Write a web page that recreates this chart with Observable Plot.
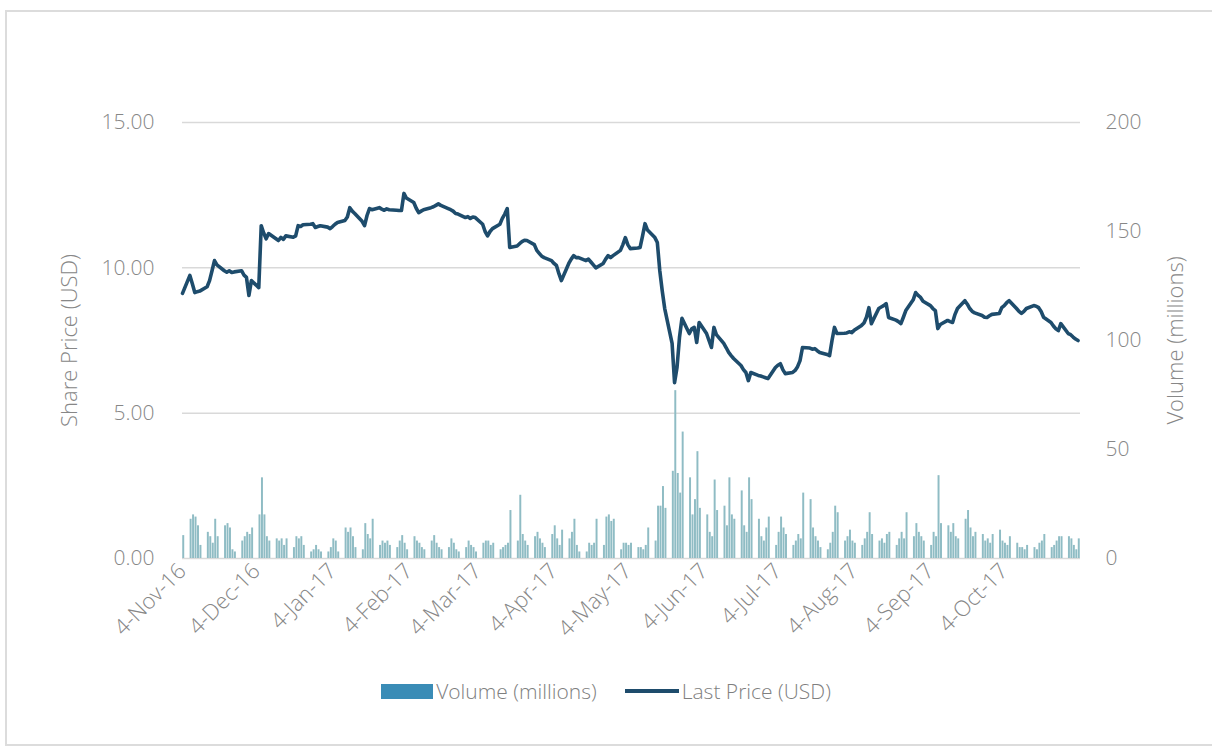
<!DOCTYPE html>
<html>
<head>
<meta charset="utf-8">
<script src="https://cdn.jsdelivr.net/npm/d3@7"></script>
<script src="https://cdn.jsdelivr.net/npm/@observablehq/plot@0.6"></script>
<style>
  html, body { margin: 0; padding: 0; background: #fff; }
  #wrap { position: relative; width: 1212px; height: 754px; overflow: hidden; font-family: "Open Sans", sans-serif; }
  #frame { position: absolute; left: 5px; top: 10px; width: 1230px; height: 736px; border: 2px solid #dcdcdc; box-sizing: border-box; }
  #chart { position: absolute; left: 0; top: 0; }
  #legend { position: absolute; top: 677px; left: 0; width: 1212px; display: flex; justify-content: center; align-items: center; font-size: 21px; color: #7f7f7f; font-weight: 300; }
  .sw-rect { width: 52px; height: 15px; margin-right: 3px; }
  .sw-line { width: 54px; height: 4px; margin-right: 3px; }
  .item { display: flex; align-items: center; margin: 0 14px; }
</style>
</head>
<body>
<div id="wrap">
  <div id="frame"></div>
  <div id="chart"></div>
  <div id="legend"></div>
</div>
<script>
// ---- Data ----
const startDate = "2016-11-04";
const endDate = "2017-11-04";

const xTickLabels = ["4-Nov-16","4-Dec-16","4-Jan-17","4-Feb-17","4-Mar-17","4-Apr-17","4-May-17","4-Jun-17","4-Jul-17","4-Aug-17","4-Sep-17","4-Oct-17"];
const priceTicks = [0, 5, 10, 15];
const volumeTicks = [0, 50, 100, 150, 200];
const priceTitle = "Share Price (USD)";
const volumeTitle = "Volume (millions)";

// Last price (USD), one value per trading day (Fri 4-Nov-16, then Mon..Fri weeks)
const lastPrice = [
  9.12,
  9.74, 9.45, 9.15, 9.18, 9.20,
  9.35, 9.56, 9.90, 10.25, 10.10,
  9.90, 9.85, 9.90, 9.84, 9.86,
  9.90, 9.75, 9.67, 9.05, 9.56,
  9.32, 11.45, 11.20, 11.00, 11.18,
  11.00, 10.94, 11.05, 10.98, 11.10,
  11.05, 11.10, 11.45, 11.42, 11.48,
  11.50, 11.52, 11.39, 11.42, 11.45,
  11.40, 11.35, 11.42, 11.50, 11.56,
  11.63, 11.75, 12.07, 11.95, 11.87,
  11.60, 11.45, 11.80, 12.04, 12.00,
  12.07, 12.02, 11.98, 12.03, 12.00,
  11.98, 11.97, 11.97, 12.56, 12.40,
  12.25, 12.05, 11.90, 11.95, 12.00,
  12.07, 12.10, 12.15, 12.20, 12.15,
  12.04, 12.00, 11.95, 11.87, 11.85,
  11.73, 11.76, 11.70, 11.75, 11.73,
  11.50, 11.25, 11.10, 11.25, 11.35,
  11.50, 11.70, 11.85, 12.04, 10.70,
  10.75, 10.83, 10.90, 10.95, 10.94,
  10.80, 10.60, 10.50, 10.40, 10.35,
  10.25, 10.15, 10.08, 9.80, 9.56,
  10.15, 10.30, 10.42, 10.35, 10.35,
  10.25, 10.30, 10.20, 10.10, 10.00,
  10.15, 10.30, 10.42, 10.35, 10.42,
  10.60, 10.80, 11.04, 10.80, 10.66,
  10.68, 10.70, 11.10, 11.52, 11.30,
  11.04, 10.87, 9.90, 9.20, 8.60,
  7.40, 6.05, 6.57, 7.60, 8.26,
  7.74, 7.90, 7.95, 7.43, 8.12,
  7.74, 7.50, 7.26, 7.95, 7.70,
  7.40, 7.25, 7.09, 6.98, 6.88,
  6.64, 6.50, 6.40, 6.12, 6.40,
  6.30, 6.28, 6.25, 6.22, 6.19,
  6.57, 6.65, 6.70, 6.50, 6.36,
  6.40, 6.47, 6.60, 6.81, 7.26,
  7.24, 7.20, 7.22, 7.15, 7.09,
  7.02, 6.98, 7.50, 7.95, 7.74,
  7.75, 7.76, 7.80, 7.77, 7.85,
  8.02, 8.10, 8.30, 8.63, 8.08,
  8.60, 8.65, 8.70, 8.77, 8.29,
  8.20, 8.15, 8.08, 8.30, 8.53,
  8.90, 9.15, 9.05, 8.98, 8.85,
  8.70, 8.60, 8.53, 7.91, 8.05,
  8.19, 8.15, 8.12, 8.40, 8.60,
  8.87, 8.75, 8.60, 8.50, 8.45,
  8.36, 8.30, 8.29, 8.35, 8.40,
  8.43, 8.63, 8.70, 8.80, 8.87,
  8.60, 8.50, 8.43, 8.50, 8.60,
  8.70, 8.68, 8.63, 8.50, 8.30,
  8.12, 8.00, 7.90, 7.84, 8.08,
  7.74, 7.70, 7.62, 7.55, 7.50
];

// Volume (millions), one value per trading day
const volume = [
  10.5,
  18, 20, 19, 15, 6,
  12, 10, 7, 18, 10,
  15, 16, 14, 4, 3,
  8, 10, 12, 11, 14,
  20, 37, 20, 10, 8,
  9, 8, 9, 6, 9,
  5, 10, 9, 10, 6,
  3, 4, 6, 4, 3,
  3, 5, 9, 8, 3,
  14, 12, 14, 10, 5,
  4, 16, 11, 9, 18,
  6, 8, 7, 8, 6,
  5, 8, 10.5, 7, 4,
  10, 8, 7, 5, 4,
  8, 10.5, 7, 5, 4,
  5, 9, 7, 4, 3,
  5, 8, 6, 5, 3,
  7, 8, 8, 6, 7,
  4, 5, 6, 7, 22,
  8, 29, 11, 8, 6,
  10, 12, 9, 7, 5,
  11, 15, 9, 6, 13,
  9, 12, 18, 6, 3,
  3, 7, 6, 7, 18,
  6, 19, 20, 17, 18,
  4, 7, 7, 6, 7,
  5, 5, 4, 6, 14,
  8, 24, 24, 33, 23,
  40, 77, 39, 30, 58,
  37, 20, 27, 49, 23,
  20, 12, 10, 36, 22,
  24, 15, 37, 20, 18,
  31, 15, 12, 37, 27,
  18, 10, 8, 14, 19,
  6, 12, 19, 14, 11,
  6, 8, 11, 9, 30,
  27, 14, 10, 8, 5,
  4, 7, 12, 24, 21,
  8, 10, 13, 8, 7,
  6, 9, 12, 21, 11,
  8, 9, 7, 11, 12,
  6, 9, 12, 9, 21,
  10, 16, 12, 10, 8,
  6, 12, 10, 38, 16,
  15, 12, 16, 10, 9,
  18, 22, 14, 10, 12,
  11, 8, 9, 7, 11,
  13, 8, 7, 6, 10,
  7, 5, 5, 4, 6,
  5, 4, 7, 8, 11,
  5, 6, 8, 10, 10,
  10, 9, 6, 4, 9
];

// ---- Build table ----
const parseISO = d3.utcParse("%Y-%m-%d");
const parseTick = d3.utcParse("%d-%b-%y");
const tradingDays = d3.utcDays(parseISO(startDate), parseISO(endDate)).filter(d => d.getUTCDay() !== 0 && d.getUTCDay() !== 6);
const n = Math.min(tradingDays.length, lastPrice.length, volume.length);
const rows = d3.range(n).map(i => ({date: tradingDays[i], price: lastPrice[i], volume: volume[i]}));

const priceMax = 15, volMax = 200;
const volToPrice = v => v * priceMax / volMax;
const xTicks = xTickLabels.map(parseTick);
const fmtTick = d3.utcFormat("%-d-%b-%y");

const W = 1212, H = 680;
const chart = Plot.plot({
  width: W,
  height: H,
  marginTop: 122,
  marginBottom: 122,
  marginLeft: 182,
  marginRight: 132,
  style: {fontFamily: "'Open Sans', sans-serif", fontSize: "21px", color: "#878787", background: "transparent", fontWeight: 300},
  x: {type: "utc", domain: [parseISO(startDate), parseISO(endDate)]},
  y: {domain: [0, priceMax]},
  marks: [
    Plot.gridY(priceTicks, {stroke: "#d9d9d9", strokeOpacity: 1, strokeWidth: 1.5}),
    Plot.rectY(rows, {x: "date", interval: "day", y: d => volToPrice(d.volume), fill: "#8fbcc4", insetLeft: 0.25, insetRight: 0.25}),
    Plot.lineY(rows, {x: "date", y: "price", stroke: "#1e4c6c", strokeWidth: 3.6, strokeLinejoin: "round"}),
    Plot.axisX(xTicks, {tickSize: 0, tickPadding: 9, tickRotate: -45, tickFormat: fmtTick, label: null, fontSize: 22}),
    Plot.axisY(priceTicks, {anchor: "left", tickSize: 0, tickPadding: 28, tickFormat: d3.format(".2f"), label: null}),
    Plot.axisY(volumeTicks.map(volToPrice), {anchor: "right", tickSize: 0, tickPadding: 25, tickFormat: d => String(Math.round(d * volMax / priceMax)), label: null}),
    Plot.text([priceTitle], {frameAnchor: "left", dx: -113, rotate: -90, textAnchor: "middle", fill: "#878787", fontSize: 22}),
    Plot.text([volumeTitle], {frameAnchor: "right", dx: 95, rotate: -90, textAnchor: "middle", fill: "#878787", fontSize: 22})
  ]
});
document.getElementById("chart").appendChild(chart);

// ---- Legend ----
const legendItems = [
  {label: "Volume (millions)", kind: "rect", color: "#3a8cb6"},
  {label: "Last Price (USD)", kind: "line", color: "#1e4c6c"}
];
const legend = document.getElementById("legend");
legendItems.forEach(it => {
  const item = document.createElement("div");
  item.className = "item";
  const sw = document.createElement("div");
  sw.className = it.kind === "rect" ? "sw-rect" : "sw-line";
  sw.style.background = it.color;
  const tx = document.createElement("span");
  tx.textContent = it.label;
  item.appendChild(sw);
  item.appendChild(tx);
  legend.appendChild(item);
});
</script>
</body>
</html>
